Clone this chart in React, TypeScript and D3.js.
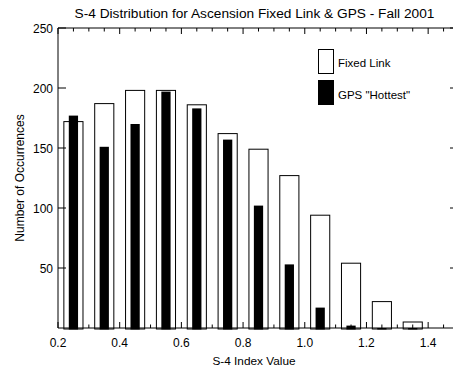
import React from "react";
import * as d3 from "d3";

// bin centres of the S-4 histogram
const bins = [0.25, 0.35, 0.45, 0.55, 0.65, 0.75, 0.85, 0.95, 1.05, 1.15, 1.25, 1.35];
const fixedLink = [172, 187, 198, 198, 186, 162, 149, 127, 94, 54, 22, 5];
const gpsHottest = [177, 151, 170, 197, 183, 157, 102, 53, 17, 2, 0, 0];
const xTickLabels = [0.2, 0.4, 0.6, 0.8, 1.0, 1.2, 1.4];
const yTickLabels = [50, 100, 150, 200, 250];

const W = 453;
const H = 370;
const FONT = "'Liberation Sans', Arial, Helvetica, sans-serif";

export default function App() {
  React.useEffect(() => {
    document.body.style.margin = "0";
  }, []);

  const x = d3.scaleLinear().domain([0.2, 1.5]).range([58, 459]);
  const y = d3.scaleLinear().domain([0, 250]).range([328, 28]);
  const x0 = x(0.2), x1 = x(1.5), y0 = y(0), y1 = y(250);

  const minorTicks = d3.range(0, 27).map((i) => 0.2 + i * 0.05);
  const isMajor = (v: number) => Math.abs(Math.round(v * 5) - v * 5) < 1e-6;
  const fixedW = x(0.262) - x(0.2);
  const gpsW = x(0.23) - x(0.2);

  return (
    <svg width={W} height={H} style={{ display: "block", background: "#fff" }} fontFamily={FONT}>
      <text x={254.5} y={18} textAnchor="middle" fontSize={13.7} fill="#000">
        S-4 Distribution for Ascension Fixed Link &amp; GPS - Fall 2001
      </text>

      {/* fixed link bars (outline) */}
      {bins.map((b, i) => (
        <rect key={"f" + i} x={x(b) - fixedW / 2} y={y(fixedLink[i])} width={fixedW}
          height={y0 - y(fixedLink[i]) + 1} fill="#fff" stroke="#000" strokeWidth={1} />
      ))}
      {/* GPS bars (filled) */}
      {bins.map((b, i) => (
        <rect key={"g" + i} x={x(b) - gpsW / 2} y={y(gpsHottest[i])} width={gpsW}
          height={y0 - y(gpsHottest[i]) + 1.5} fill="#000" />
      ))}

      {/* frame */}
      <line x1={x0} x2={x1} y1={y0} y2={y0} stroke="#000" />
      <line x1={x0} x2={x1} y1={y1} y2={y1} stroke="#000" />
      <line x1={x0} x2={x0} y1={y0} y2={y1} stroke="#000" />
      <line x1={x1} x2={x1} y1={y0} y2={y1} stroke="#000" />

      {/* x ticks top & bottom */}
      {minorTicks.map((v, i) => {
        const len = isMajor(v) ? 6 : 3.5;
        return (
          <g key={"xt" + i}>
            <line x1={x(v)} x2={x(v)} y1={y0} y2={y0 - len} stroke="#000" />
            <line x1={x(v)} x2={x(v)} y1={y1} y2={y1 + len} stroke="#000" />
          </g>
        );
      })}
      {xTickLabels.map((v) => (
        <text key={"xl" + v} x={x(v)} y={347} textAnchor="middle" fontSize={12} fill="#000">
          {d3.format(".1f")(v)}
        </text>
      ))}

      {/* y ticks left & right */}
      {yTickLabels.map((v) => (
        <g key={"yt" + v}>
          <line x1={x0} x2={x0 + 8} y1={y(v)} y2={y(v)} stroke="#000" />
          <line x1={x1} x2={x1 - 9} y1={y(v)} y2={y(v)} stroke="#000" />
        </g>
      ))}
      {yTickLabels.map((v) => (
        <text key={"yl" + v} x={53} y={y(v) + 4.5} textAnchor="end" fontSize={12} fill="#000">
          {v}
        </text>
      ))}

      <text x={254} y={365} textAnchor="middle" fontSize={11.8} fill="#000">S-4 Index Value</text>
      <text transform={`translate(24,${(y0 + y1) / 2}) rotate(-90)`} textAnchor="middle" fontSize={12} fill="#000">
        Number of Occurrences
      </text>

      {/* legend */}
      <rect x={318.5} y={49.5} width={15} height={24} fill="#fff" stroke="#000" />
      <text x={338} y={67} fontSize={11.5} fill="#000">Fixed Link</text>
      <rect x={318} y={80} width={16} height={25} fill="#000" />
      <text x={338} y={99} fontSize={11.5} fill="#000">GPS "Hottest"</text>
    </svg>
  );
}
